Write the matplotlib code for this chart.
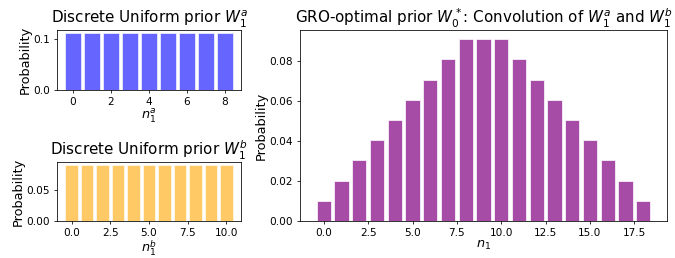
import matplotlib
matplotlib.use("Agg")
import matplotlib.pyplot as plt

# ── Data ──────────────────────────────────────────────────────────────────────
n_a = [0, 1, 2, 3, 4, 5, 6, 7, 8]
p_a = [0.1111, 0.1111, 0.1111, 0.1111, 0.1111, 0.1111, 0.1111, 0.1111, 0.1111]

n_b = [0, 1, 2, 3, 4, 5, 6, 7, 8, 9, 10]
p_b = [0.0909, 0.0909, 0.0909, 0.0909, 0.0909, 0.0909, 0.0909, 0.0909,
       0.0909, 0.0909, 0.0909]

n_conv = list(range(19))
p_conv = [0.0101, 0.0202, 0.0303, 0.0404, 0.0505, 0.0606, 0.0707, 0.0808,
          0.0909, 0.0909, 0.0909, 0.0808, 0.0707, 0.0606, 0.0505, 0.0404,
          0.0303, 0.0202, 0.0101]

xticks_a = [0, 2, 4, 6, 8]
yticks_a = [0.0, 0.1]
xticks_b = [0.0, 2.5, 5.0, 7.5, 10.0]
yticks_b = [0.00, 0.05]

# ── Figure ────────────────────────────────────────────────────────────────────
DPI = 70
W, H = 675, 258
TICK, LABEL, TITLE = 10.8, 13.2, 15.5
fig = plt.figure(figsize=(W / DPI, H / DPI), dpi=DPI)


def box(x0, y0, x1, y1):
    # pixel box (top-left origin) -> figure fraction
    return [x0 / W, (H - y1) / H, (x1 - x0) / W, (y1 - y0) / H]


ax_a = fig.add_axes(box(57, 30, 241, 90))
ax_b = fig.add_axes(box(57, 162, 241, 221))
ax_c = fig.add_axes(box(300, 30, 667, 221))

ax_a.bar(n_a, p_a, color="blue", alpha=0.6, edgecolor="white")
ax_a.set_title(r"Discrete Uniform prior $W_1^a$", fontsize=TITLE, pad=4)
ax_a.set_xlabel(r"$n_1^a$", fontsize=LABEL, labelpad=1)
ax_a.set_ylabel("Probability", fontsize=LABEL, labelpad=2)
ax_a.set_xticks(xticks_a)
ax_a.set_yticks(yticks_a)

ax_b.bar(n_b, p_b, color="orange", alpha=0.6, edgecolor="white")
ax_b.set_title(r"Discrete Uniform prior $W_1^b$", fontsize=TITLE, pad=4)
ax_b.set_xlabel(r"$n_1^b$", fontsize=LABEL, labelpad=1)
ax_b.set_ylabel("Probability", fontsize=LABEL, labelpad=2)
ax_b.set_xticks(xticks_b)
ax_b.set_yticks(yticks_b)

ax_c.bar(n_conv, p_conv, color="purple", alpha=0.7, edgecolor="white")
ax_c.set_title(r"GRO-optimal prior $W_0^*$: Convolution of $W_1^a$ and $W_1^b$",
               fontsize=TITLE, pad=4)
ax_c.set_xlabel(r"$n_1$", fontsize=LABEL, labelpad=1)
ax_c.set_ylabel("Probability", fontsize=LABEL, labelpad=2)

for ax in (ax_a, ax_b, ax_c):
    ax.tick_params(labelsize=TICK)

fig.savefig("out.png", dpi=DPI)
